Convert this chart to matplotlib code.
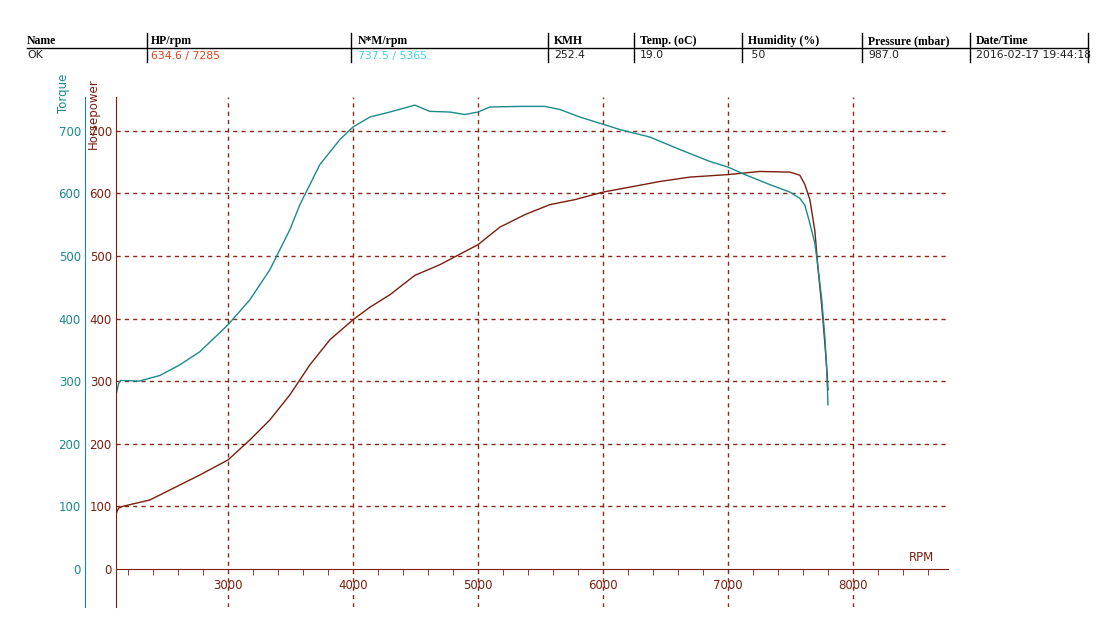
import matplotlib
matplotlib.use('Agg')
import matplotlib.pyplot as plt
from matplotlib.ticker import MultipleLocator

# dyno run
rpm_tq = [2104, 2125, 2140, 2290, 2455, 2615, 2775, 3000, 3175, 3335, 3495, 3575,
          3735, 3895, 4000, 4135, 4295, 4495, 4615, 4775, 4895, 5000, 5095, 5335,
          5535, 5655, 5815, 5975, 6135, 6375, 6615, 6855, 7000, 7135, 7335, 7495,
          7575, 7615, 7655, 7695, 7720, 7750, 7775, 7790, 7800]
torque = [278, 296, 301, 300, 309, 326, 347, 390, 430, 478, 542, 582,
          646, 686, 706, 722, 730, 741, 731, 730, 726, 730, 738, 739,
          739, 734, 722, 712, 702, 690, 670, 651, 642, 630, 614, 602,
          592, 581, 552, 520, 482, 430, 370, 318, 262]

rpm_hp = [2104, 2125, 2160, 2375, 2615, 2775, 3000, 3175, 3335, 3495, 3655, 3815,
          4000, 4135, 4295, 4495, 4695, 4895, 5000, 5175, 5375, 5575, 5775, 6000,
          6215, 6455, 6695, 7000, 7255, 7495, 7575, 7615, 7655, 7695, 7720, 7750,
          7775, 7790, 7800]
hp = [88, 97, 100, 110, 134, 150, 174, 206, 238, 278, 326, 366,
      398, 418, 438, 469, 486, 507, 518, 546, 566, 582, 590, 602,
      610, 619, 626, 630, 635, 634, 629, 614, 590, 540, 480, 420,
      360, 320, 286]

headers = ['Name', 'HP/rpm', 'N*M/rpm', 'KMH', 'Temp. (oC)', 'Humidity (%)',
           'Pressure (mbar)', 'Date/Time']
values = ['OK', '634.6 / 7285', '737.5 / 5365', '252.4', '19.0', ' 50',
          '987.0', '2016-02-17 19:44:18']
col_x = [27, 151, 358, 554, 640, 748, 868, 976]
sep_x = [147, 351, 548, 634, 742, 862, 970, 1088]

TEAL = '#1b8a8c'
RED = '#7a1e0e'
GRID = '#86291a'
W, H = 1118, 640

fig = plt.figure(figsize=(W / 100, H / 100), dpi=100)
fig.patch.set_facecolor('white')

# header table
value_colors = ['#202020', '#e0401a', '#3cd6e6'] + ['#202020'] * 5
for i in range(len(headers)):
    fig.text(col_x[i] / W, 1 - 41 / H, headers[i], fontsize=8.5, fontweight='bold',
             family='Liberation Serif', va='center', ha='left', color='black')
    fig.text(col_x[i] / W, 1 - 55.5 / H, values[i], fontsize=7.8,
             family='DejaVu Sans', va='center', ha='left', color=value_colors[i])
for x in sep_x:
    fig.add_artist(plt.Line2D([x / W, x / W], [1 - 33 / H, 1 - 62 / H],
                              color='black', lw=1))
fig.add_artist(plt.Line2D([27 / W, 1088 / W], [1 - 47.5 / H, 1 - 47.5 / H],
                          color='black', lw=1))

# main axes
x0, x1, y0, y1 = 116, 948, 97, 607
ax = fig.add_axes([x0 / W, 1 - y1 / H, (x1 - x0) / W, (y1 - y0) / H])
ax.set_xlim(2104, 8760)
ax.set_ylim(-61, 754)

ax.plot(rpm_hp, hp, color=RED, lw=1)
ax.plot(rpm_tq, torque, color=TEAL, lw=1)

for s in ['top', 'right']:
    ax.spines[s].set_visible(False)
ax.spines['left'].set_color(RED)
ax.spines['bottom'].set_color(RED)
ax.spines['bottom'].set_position(('data', 0))

ax.set_yticks(range(0, 701, 100))
ax.tick_params(axis='y', length=0, pad=3, labelsize=8.5, labelcolor=RED)
ax.set_xticks(range(3000, 8001, 1000))
ax.xaxis.set_minor_locator(MultipleLocator(200))
ax.tick_params(axis='x', which='major', length=0, pad=7, labelsize=8.5,
               labelcolor=RED)
ax.tick_params(axis='x', which='minor', length=4, direction='out', color=RED)

for x in range(3000, 8001, 1000):
    ax.axvline(x, color=GRID, lw=1, ls=(0, (3, 3)), zorder=0)
for y in range(100, 701, 100):
    ax.axhline(y, color=GRID, lw=1, ls=(0, (3, 3)), zorder=0)

ax.text(8650, 8, 'RPM', color=RED, fontsize=8.5, ha='right', va='bottom')

# torque axis to the left
ax2 = ax.twinx()
ax2.set_ylim(ax.get_ylim())
ax2.yaxis.set_ticks_position('left')
ax2.spines['left'].set_position(('outward', 31 * 0.72))
ax2.spines['left'].set_color(TEAL)
for s in ['top', 'right', 'bottom']:
    ax2.spines[s].set_visible(False)
ax2.set_yticks(range(0, 701, 100))
ax2.tick_params(axis='y', length=0, pad=3, labelsize=8.5, labelcolor=TEAL)

fig.text(63 / W, 1 - 93 / H, 'Torque', rotation=90, color=TEAL, fontsize=8.5,
         ha='center', va='center')
fig.text(93 / W, 1 - 114 / H, 'Horsepower', rotation=90, color=RED, fontsize=8.5,
         ha='center', va='center')

fig.savefig('out.png', dpi=100)
